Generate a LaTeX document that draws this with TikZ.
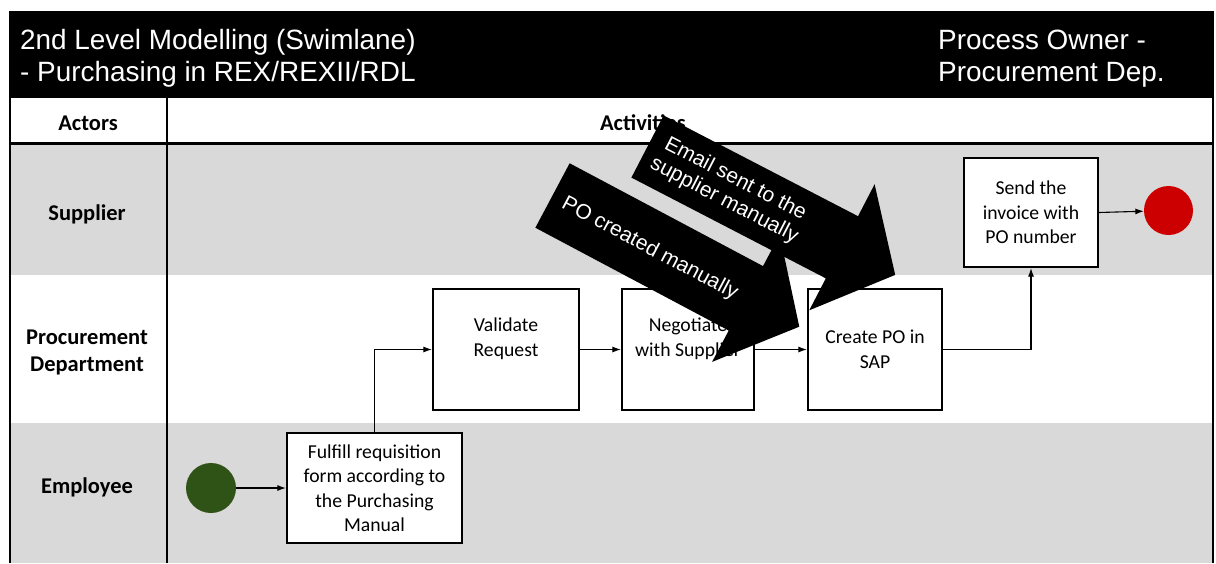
\documentclass[tikz,border=0pt]{standalone}
\usepackage{fontspec}
\setmainfont{Carlito}
\newfontfamily\arialfont{Liberation Sans}
\usetikzlibrary{arrows.meta}
\definecolor{lanegray}{RGB}{217,217,217}
\definecolor{startgreen}{RGB}{47,82,22}
\definecolor{endred}{RGB}{204,0,0}

\begin{document}
\begin{tikzpicture}[x=1pt,y=-1pt,
  box/.style={draw=black, line width=2.2pt, fill=white, align=center, inner sep=2pt,
    font=\fontsize{19.7}{24.5}\selectfont},
  lanelabel/.style={font=\bfseries\fontsize{22.5}{27.5}\selectfont, align=center, inner sep=0pt},
  titletext/.style={text=white, font=\arialfont\fontsize{27.9}{32.4}\selectfont,
    anchor=base west, inner sep=0pt},
  conn/.style={line width=1.1pt, -{Latex[length=8.5pt,width=6pt]}},
  callout/.style={fill=black},
  callouttext/.style={text=white, font=\arialfont\fontsize{21}{24}\selectfont,
    align=center, transform shape},
  event/.style={circle, minimum size=50pt, inner sep=0pt},
]
\useasboundingbox (0,0) rectangle (1216,563);
\fill[white] (0,0) rectangle (1216,563);

% swimlane backgrounds
\fill[lanegray] (10,145) rectangle (1213,275);
\fill[lanegray] (10,423) rectangle (1213,563);

% title bar
\fill[black] (9,11) rectangle (1214,98);
\node[titletext] (title1) at (20,49.3) {2nd Level Modelling (Swimlane)};
\node[titletext] (title2) at (20,81.7) {- Purchasing in REX/REXII/RDL};
\node[titletext] (owner1) at (938,49.3) {Process Owner -};
\node[titletext] (owner2) at (938,81.7) {Procurement Dep.};

% table rules
\draw[line width=2.4pt] (10,143.5) -- (1213,143.5);
\draw[line width=1.6pt] (167,98) -- (167,563);
\draw[line width=2pt] (10,98) -- (10,563);
\draw[line width=2pt] (1213,98) -- (1213,563);

% column and lane headings
\node[lanelabel, anchor=base] (actors) at (88,130) {Actors};
\node[lanelabel, anchor=base] (activities) at (643,130) {Activities};
\node[lanelabel, anchor=base] (supplier) at (87,220) {Supplier};
\node[lanelabel] (procurement) at (87,352.5) {Procurement\\Department};
\node[lanelabel, anchor=base] (employee) at (87,493) {Employee};

% events
\node[event, fill=startgreen] (start) at (211,488) {};
\node[event, fill=endred, minimum size=49pt] (finish) at (1168.5,210.5) {};

% activities
\node[box, minimum width=175pt, minimum height=110pt] (ful) at (374.5,488)
  {Fulfill requisition\\form according to\\the Purchasing\\Manual};
\node[box, minimum width=146pt, minimum height=121pt] (val) at (506,349.5)
  {Validate\\Request\\\mbox{}};
\node[box, minimum width=132pt, minimum height=121pt] (neg) at (688,349.5)
  {Negotiate\\with Supplier\\\mbox{}};
\node[box, minimum width=134pt, minimum height=121pt] (cpo) at (875,349.5)
  {Create PO in\\SAP};
\node[box, minimum width=134pt, minimum height=109pt] (inv) at (1031,212.5)
  {Send the\\invoice with\\PO number};

% sequence flow
\draw[conn] (start) -- (ful);
\draw[conn] (ful.north) |- (val.west);
\draw[conn] (val) -- (neg);
\draw[conn] (neg) -- (cpo);
\draw[conn] (cpo.east) -| (inv.south);
\draw[conn] (inv.east) -- (finish);

% callout arrows
\begin{scope}[shift={(552.5,195.5)}, rotate=-28]
  \fill[callout] (0,-36.5) -- (219,-36.5) -- (219,-72) -- (279.5,0)
    -- (219,72) -- (219,36.5) -- (0,36.5) -- cycle;
  \node[callouttext] (potext) at (111,1.5) {PO created manually};
\end{scope}
\begin{scope}[shift={(647.5,146.5)}, rotate=-27.4]
  \fill[callout] (0,-35) -- (219,-35) -- (219,-71) -- (279,0)
    -- (219,71) -- (219,35) -- (0,35) -- cycle;
  \node[callouttext] (mailtext) at (93,0.7) {Email sent to the\\supplier manually};
\end{scope}
\end{tikzpicture}
\end{document}
